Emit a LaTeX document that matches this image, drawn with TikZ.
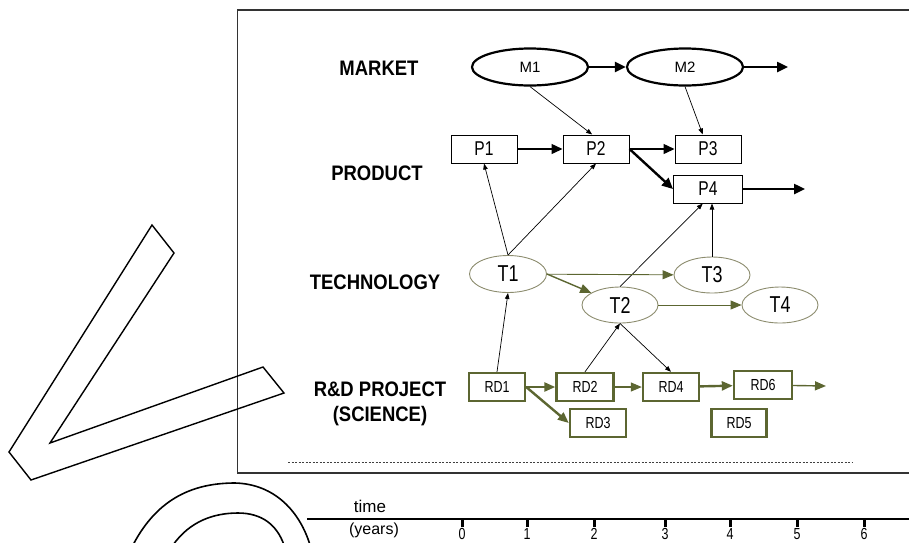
\documentclass[tikz,border=0pt]{standalone}
\usepackage{fontspec}
\setmainfont{Liberation Sans}
\newfontfamily\catfont[FakeStretch=0.88]{Liberation Sans Bold}
\newfontfamily\narrowfont[FakeStretch=0.78]{Liberation Sans}
\usepackage{tikz}
\usetikzlibrary{arrows.meta,shapes.geometric}
\definecolor{rdolive}{HTML}{5C6631}
\definecolor{techline}{HTML}{8C8C6E}
\definecolor{frameline}{HTML}{333333}

\tikzset{
  rowlabel/.style={font=\catfont\fontsize{21}{25}\selectfont, align=center},
  market/.style={ellipse, draw, line width=2.2pt, minimum width=116pt, minimum height=37pt,
                 inner sep=0pt, font=\fontsize{15}{15}\selectfont},
  prodbox/.style={draw, line width=1pt, minimum width=66pt, minimum height=28pt,
                  inner sep=0pt, font=\narrowfont\fontsize{20}{20}\selectfont},
  tech/.style={ellipse, draw=techline, line width=0.9pt, minimum width=76pt, minimum height=36pt,
               inner sep=0pt, font=\narrowfont\fontsize{23}{23}\selectfont},
  rdbox/.style={draw=rdolive, line width=2.4pt, minimum width=56pt, minimum height=28pt,
                inner sep=0pt, font=\narrowfont\fontsize{16}{16}\selectfont},
  thinarr/.style={-{Triangle[length=6pt,width=4.5pt]}, line width=0.7pt},
  midarr/.style={-{Triangle[length=11pt,width=10pt]}, line width=1.4pt},
  boldarr/.style={-{Triangle[length=11pt,width=10pt]}, line width=2.4pt},
  olivearr/.style={-{Triangle[length=11pt,width=9pt]}, color=rdolive}
}

\begin{document}
\begin{tikzpicture}[x=1pt, y=-1pt]
  \useasboundingbox (0,0) rectangle (909,542);
  \clip (0,0) rectangle (909,542);

  % frame and separator
  \draw[line width=1.8pt, frameline] (237.5,10) rectangle (925,473);
  \draw[line width=0.8pt, black!75, dash pattern=on 2pt off 1.5pt] (288,462) -- (853,462);

  % row labels
  \node[rowlabel] (lmarket) at (379,68) {MARKET};
  \node[rowlabel] (lproduct) at (377,173) {PRODUCT};
  \node[rowlabel] (ltech) at (375,282) {TECHNOLOGY};
  \node[rowlabel] (lrd) at (380,404) {R\&D PROJECT\\(SCIENCE)};

  % market
  \node[market] (m1) at (530,67) {M1};
  \node[market] (m2) at (685,67) {M2};
  \coordinate (mend) at (788,67);

  % products
  \node[prodbox] (p1) at (484,149) {P1};
  \node[prodbox] (p2) at (596,149) {P2};
  \node[prodbox] (p3) at (708,149) {P3};
  \node[prodbox, minimum width=69pt] (p4) at (708,189) {P4};
  \coordinate (pend) at (805,189);

  % technologies
  \node[tech, minimum width=77pt, minimum height=37pt] (t1) at (508,274) {T1};
  \node[tech] (t2) at (620,305) {T2};
  \node[tech] (t3) at (712,275) {T3};
  \node[tech] (t4) at (780,305) {T4};

  % R&D projects
  \node[rdbox] (rd1) at (497,387) {RD1};
  \node[rdbox, minimum width=57pt] (rd2) at (585,387) {RD2};
  \node[rdbox] (rd3) at (598,423) {RD3};
  \node[rdbox] (rd4) at (671,387) {RD4};
  \node[rdbox, minimum width=55pt] (rd5) at (739,423) {RD5};
  \node[rdbox, minimum width=58pt] (rd6) at (763,385) {RD6};
  \coordinate (rdend) at (826,386);

  % market links
  \draw[boldarr] (m1) -- (m2);
  \draw[boldarr] (m2) -- (mend);
  \draw[thinarr] (m1.south) -- (p2.105);
  \draw[thinarr] (m2.south) -- (p3.110);

  % product links
  \draw[midarr] (p1) -- (p2);
  \draw[midarr] (p2) -- (p3);
  \draw[boldarr] (p2.east) -- (p4.west);
  \draw[boldarr] (p4) -- (pend);

  % technology links
  \draw[thinarr] (t1.north) -- (p1.south);
  \draw[thinarr] (t1.north) -- (p2.south);
  \draw[thinarr] (t2.north) -- (p4.250);
  \draw[thinarr] (t3.north) -- (t3.north |- p4.south);
  \draw[olivearr, line width=0.9pt] (t1) -- (t3);
  \draw[olivearr, line width=1.4pt] (t1.east) -- (t2);
  \draw[olivearr, line width=0.9pt] (t2) -- (t4);

  % R&D links
  \draw[thinarr] (rd1.north) -- (t1.south);
  \draw[thinarr] (rd2.north) -- (t2.south);
  \draw[thinarr] (t2.south) -- (rd4.north);
  \draw[olivearr, line width=2.4pt] (rd1) -- (rd2);
  \draw[olivearr, line width=2.4pt] (rd1.east) -- (rd3.west);
  \draw[olivearr, line width=1.2pt] (rd2) -- (rd4);
  \draw[olivearr, line width=2.4pt] (rd4) -- (rd6);
  \draw[olivearr, line width=1.4pt] (rd6) -- (rdend);

  % time axis
  \node[font=\fontsize{17}{17}\selectfont] (ltime) at (370,506) {time};
  \node[font=\fontsize{16}{16}\selectfont] (lyears) at (374,530) {(years)};
  \coordinate (axisstart) at (307,519);
  \coordinate (axisend) at (915,519);
  \draw[line width=1.2pt] (axisstart) -- (axisend);
  \foreach \yr/\xx in {0/462,1/527,2/594,3/665,4/730,5/797,6/864} {
    \draw[line width=3pt] (\xx,519) -- (\xx,527);
    \node[anchor=north, inner sep=0pt, font=\narrowfont\fontsize{16}{16}\selectfont] (yr\yr) at (\xx,528) {\yr};
  }

  % outline shapes on the left
  \draw[line width=1.4pt, line join=miter] (152,225) -- (174,253) -- (50,443) -- (263,367)
    -- (284,393) -- (31,480) -- (9,452) -- cycle;
  \draw[line width=1.6pt] (133,545) .. controls (158,497) and (195,483) .. (235,483)
    .. controls (275,484) and (300,512) .. (310,545);
  \draw[line width=1.6pt] (173,545) .. controls (190,521) and (214,513) .. (238,513)
    .. controls (262,513) and (277,525) .. (284,545);
\end{tikzpicture}
\end{document}
